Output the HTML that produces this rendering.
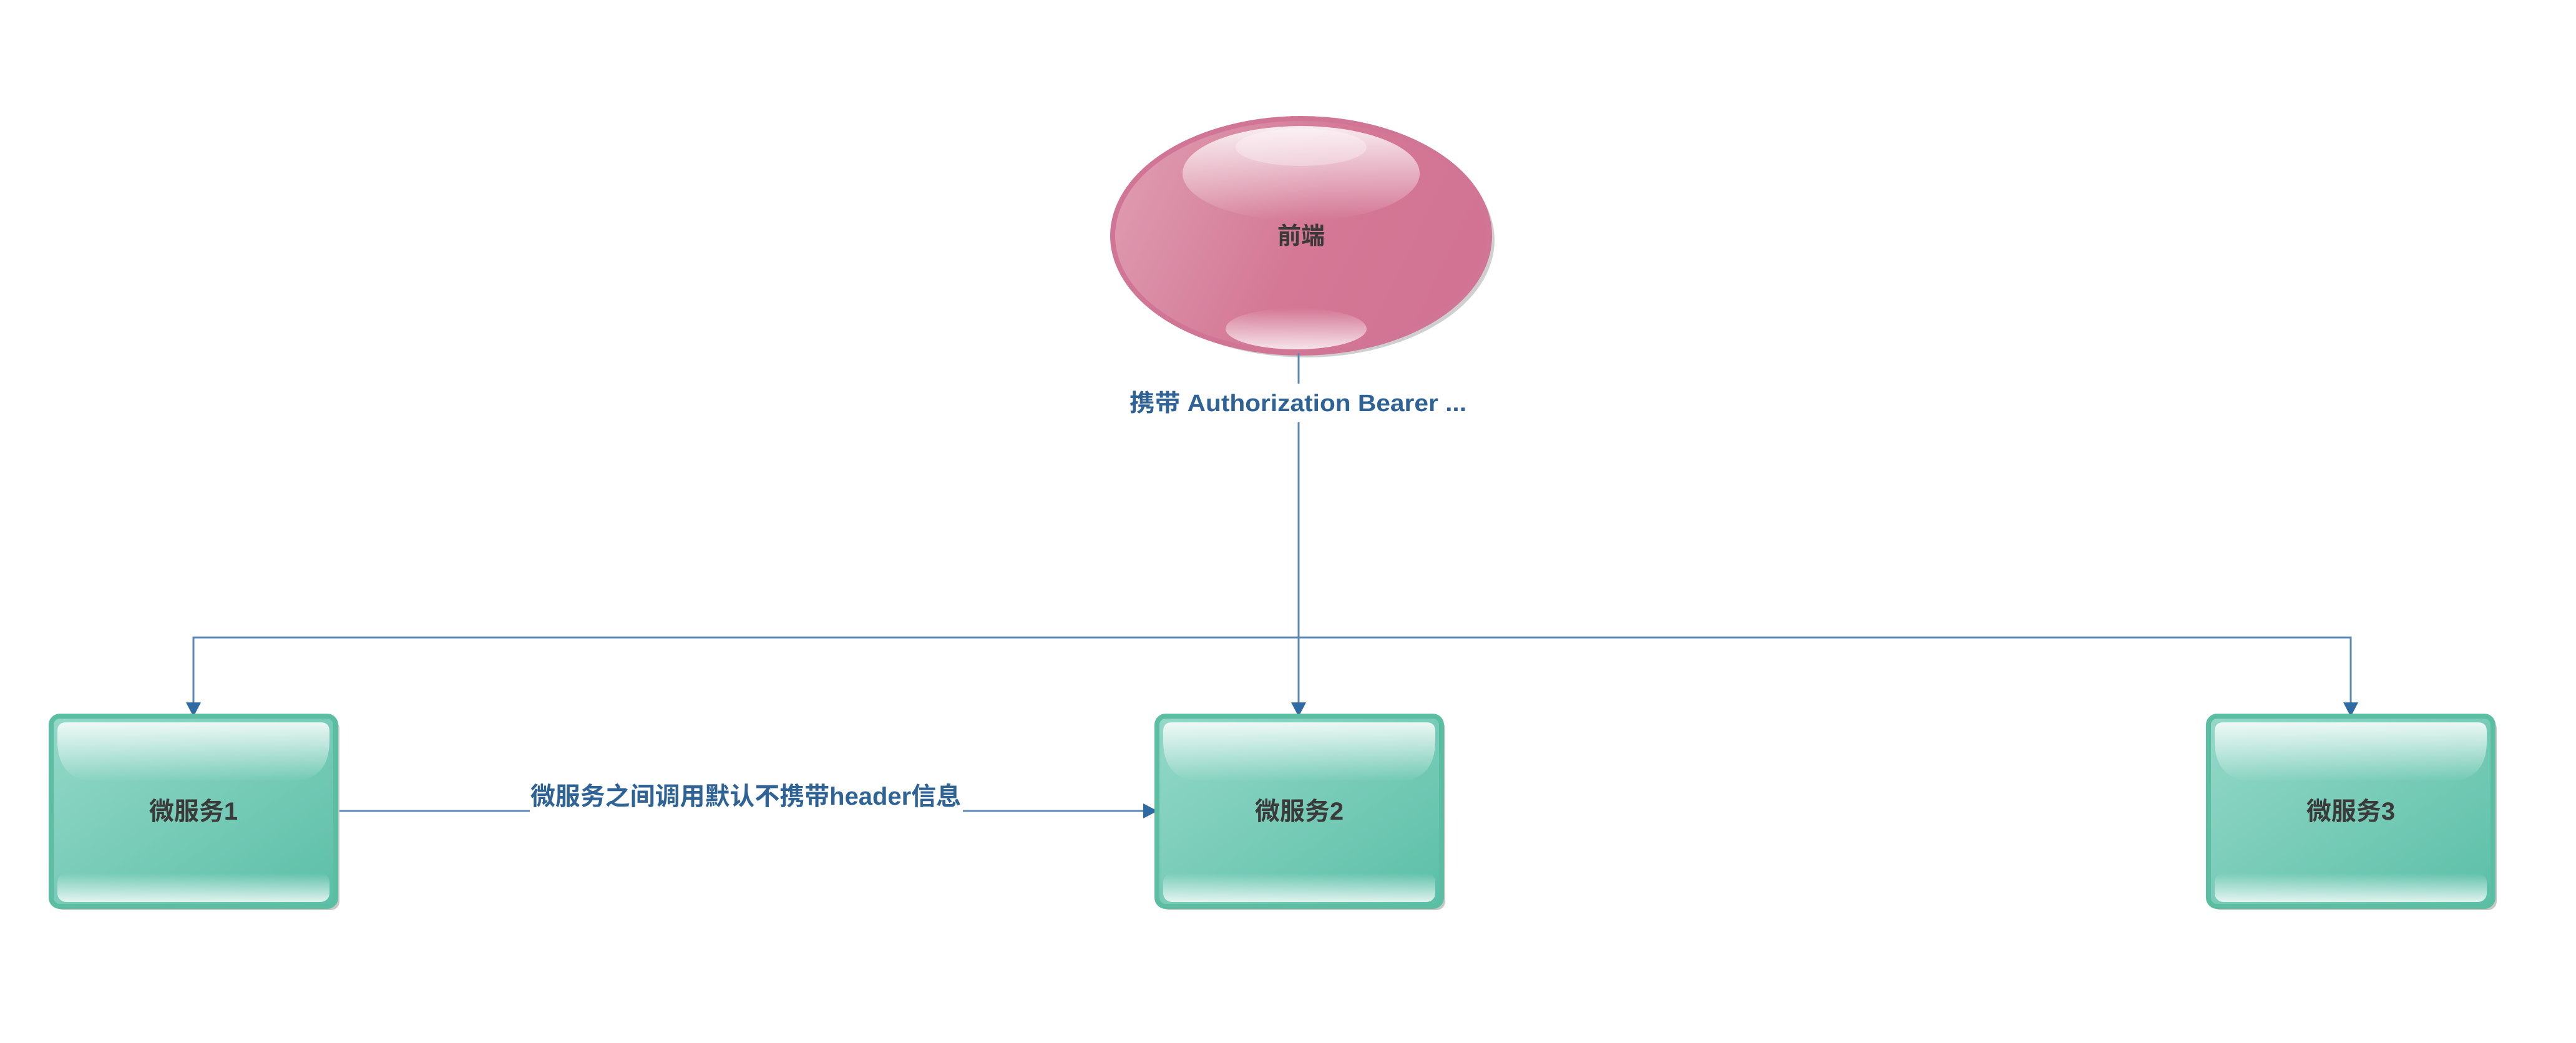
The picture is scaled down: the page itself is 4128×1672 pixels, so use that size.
<!DOCTYPE html>
<html><head><meta charset="utf-8"><style>
html,body{margin:0;padding:0;background:#fff;width:4128px;height:1672px;overflow:hidden}
svg{display:block}
text{font-family:"Liberation Sans","Noto Sans CJK SC",sans-serif;font-weight:bold}
</style></head><body>
<svg width="4128" height="1672" viewBox="0 0 4128 1672" xmlns="http://www.w3.org/2000/svg">
<defs>
<linearGradient id="gb" x1="0" y1="0" x2="1" y2="1">
<stop offset="0" stop-color="#94d8c8"/><stop offset="1" stop-color="#5bbfa7"/></linearGradient>
<linearGradient id="gt" x1="0" y1="0" x2="0" y2="1">
<stop offset="0" stop-color="#fff" stop-opacity="0.85"/><stop offset="1" stop-color="#fff" stop-opacity="0"/></linearGradient>
<linearGradient id="gbot" x1="0" y1="0" x2="0" y2="1">
<stop offset="0" stop-color="#fff" stop-opacity="0"/><stop offset="1" stop-color="#fff" stop-opacity="0.8"/></linearGradient>
<linearGradient id="ge" x1="0" y1="0" x2="1" y2="0.3">
<stop offset="0" stop-color="#e0a0b4"/><stop offset="0.6" stop-color="#d47896"/><stop offset="1" stop-color="#d27393"/></linearGradient>
<g id="box">
<rect x="6" y="6" width="456" height="305" rx="14" fill="#c8c8c8"/>
<rect x="0" y="0" width="456" height="305" rx="14" fill="url(#gb)" stroke="#5bbda2" stroke-width="8"/>
<path d="M10 24 Q10 10 24 10 L432 10 Q446 10 446 24 L446 40 Q446 105 380 105 L76 105 Q10 105 10 40 Z" fill="url(#gt)"/>
<rect x="10" y="252" width="436" height="46" rx="14" fill="url(#gbot)"/>
</g>
</defs>

<!-- ellipse -->
<ellipse cx="2093" cy="385" rx="302" ry="188" fill="#cfcfcf"/>
<ellipse cx="2085" cy="378" rx="302" ry="188" fill="url(#ge)" stroke="#d07595" stroke-width="8"/>
<ellipse cx="2085" cy="278" rx="190" ry="76" fill="url(#gt)"/>
<ellipse cx="2085" cy="236" rx="105" ry="30" fill="#fff" opacity="0.3"/>
<ellipse cx="2077" cy="527" rx="113" ry="33" fill="url(#gbot)"/>
<text x="2085" y="391" font-size="38" fill="#3a3a3a" text-anchor="middle">前端</text>

<!-- connectors -->
<g stroke="#5b88b5" stroke-width="3" fill="none">
<line x1="2081" y1="566" x2="2081" y2="615"/>
<line x1="2081" y1="677" x2="2081" y2="1128"/>
<polyline points="310,1128 310,1022 3767,1022 3767,1128"/>
<line x1="538" y1="1300" x2="849" y2="1300"/>
<line x1="1543" y1="1300" x2="1834" y2="1300"/>
</g>
<g fill="#2f6aa3">
<path d="M298 1126 L322 1126 L310 1149 Z"/>
<path d="M2069 1126 L2093 1126 L2081 1149 Z"/>
<path d="M3755 1126 L3779 1126 L3767 1149 Z"/>
<path d="M1832 1288 L1832 1312 L1855 1300 Z"/>
</g>
<text x="2080" y="659" font-size="38" fill="#2f6396" text-anchor="middle" textLength="540" lengthAdjust="spacingAndGlyphs">携带 Authorization Bearer ...</text>
<text x="1195" y="1290" font-size="40" fill="#2f6396" text-anchor="middle" textLength="690" lengthAdjust="spacingAndGlyphs">微服务之间调用默认不携带header信息</text>

<!-- boxes -->
<use href="#box" x="82" y="1148"/>
<use href="#box" x="1854" y="1148"/>
<use href="#box" x="3539" y="1148"/>
<text x="310" y="1314" font-size="40" fill="#3a3a3a" text-anchor="middle">微服务1</text>
<text x="2082" y="1314" font-size="40" fill="#3a3a3a" text-anchor="middle">微服务2</text>
<text x="3767" y="1314" font-size="40" fill="#3a3a3a" text-anchor="middle">微服务3</text>
</svg>
</body></html>
